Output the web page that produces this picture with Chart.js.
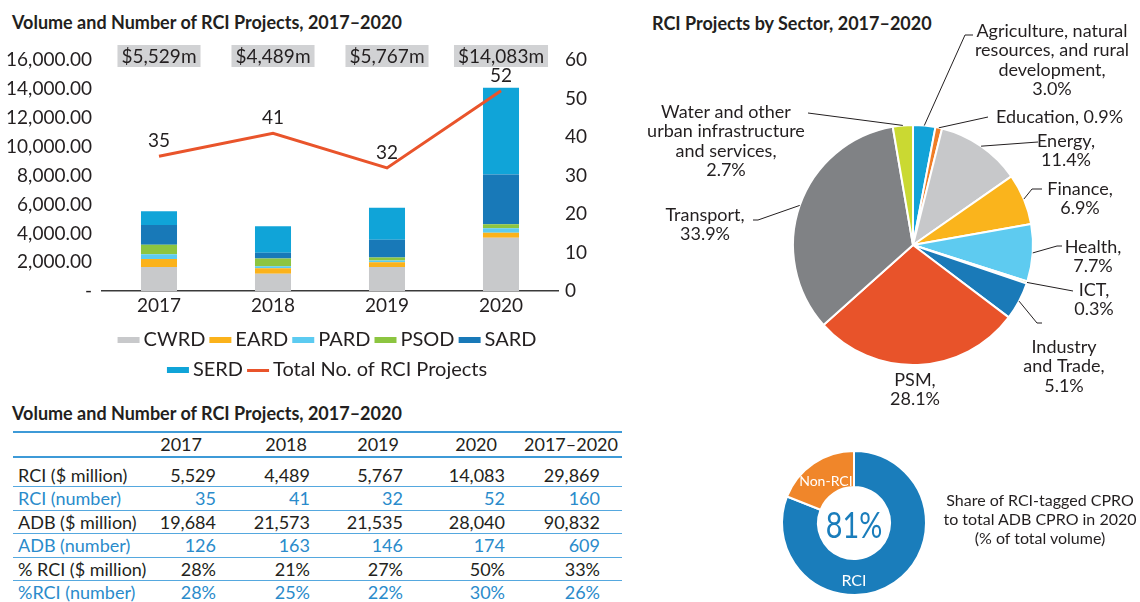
<!DOCTYPE html>
<html>
<head>
<meta charset="utf-8">
<script src="https://cdn.jsdelivr.net/npm/chart.js@4.4.1/dist/chart.umd.min.js"></script>
<style>
  body { margin: 0; width: 1140px; height: 602px; position: relative; overflow: hidden; background: #fff;
         font-family: Lato, "Noto Sans", sans-serif; color: #231f20; }
  canvas { position: absolute; }
  .title { position: absolute; font-weight: 700; font-size: 18px; line-height: 22px; white-space: nowrap; }
  #tbl { position: absolute; left: 13px; top: 431px; width: 609px; border-top: 2px solid #3d9ad7; font-size: 18px; }
  #tbl .row { display: flex; box-sizing: border-box; border-bottom: 1.5px solid #55a8df; }
  #tbl .row.head { height: 25px; line-height: 23px; border-bottom: 2px solid #3d9ad7; }
  #tbl .row.first { height: 29px; padding-top: 8px; line-height: 19px; }
  #tbl .row.body { height: 23.5px; line-height: 22px; }
  #tbl .row.last { border-bottom: none; }
  #tbl .cell { text-align: right; white-space: nowrap; }
  #tbl .lab { text-align: left; padding-left: 5px; }
  .blue { color: #2a8bcb; }
  #shareText { position: absolute; left: 935px; top: 490px; width: 210px; text-align: center;
               font-size: 16px; line-height: 19px; }
</style>
</head>
<body>
<div class="title" style="left:12px; top:11px;">Volume and Number of RCI Projects, 2017–2020</div>
<canvas id="bars" width="600" height="390" style="left:0; top:0;"></canvas>

<div class="title" style="left:652px; top:12px;">RCI Projects by Sector, 2017–2020</div>
<canvas id="pie" width="500" height="420" style="left:640px; top:0;"></canvas>

<div class="title" style="left:12px; top:402px;">Volume and Number of RCI Projects, 2017–2020</div>
<div id="tbl"></div>

<canvas id="share" width="190" height="172" style="left:760px; top:430px;"></canvas>
<div id="shareText">Share of RCI-tagged CPRO<br>to total ADB CPRO in 2020<br>(% of total volume)</div>

<script>
Chart.defaults.font.family = 'Lato, "Noto Sans", sans-serif';
Chart.defaults.color = '#231f20';

// --- bar + line data (US$ million by department, number of projects)
const years = ['2017', '2018', '2019', '2020'];
const departments = ['CWRD', 'EARD', 'PARD', 'PSOD', 'SARD', 'SERD'];
const cwrd = [1678, 1211, 1671, 3694];
const eard = [543, 380, 330, 346];
const pard = [331, 143, 118, 323];
const psod = [662, 523, 212, 277];
const sard = [1370, 404, 1224, 3440];
const serd = [945, 1828, 2212, 6003];
const projectCounts = [35, 41, 32, 52];
const lineLabel = 'Total No. of RCI Projects';

// --- pie data (% of RCI projects by sector)
const sectors = ['Agriculture, natural resources, and rural development', 'Education', 'Energy', 'Finance',
  'Health', 'ICT', 'Industry and Trade', 'PSM', 'Transport', 'Water and other urban infrastructure and services'];
const sectorShares = [3.0, 0.9, 11.4, 6.9, 7.7, 0.3, 5.1, 28.1, 33.9, 2.7];

// --- table data
const tableCols = ['2017', '2018', '2019', '2020', '2017–2020'];
const rciVolume = [5529, 4489, 5767, 14083, 29869];
const rciNumber = [35, 41, 32, 52, 160];
const adbVolume = [19684, 21573, 21535, 28040, 90832];
const adbNumber = [126, 163, 146, 174, 609];
const rciVolumePct = [28, 21, 27, 50, 33];
const rciNumberPct = [28, 25, 22, 30, 26];

// --- doughnut data
const shareNames = ['RCI', 'Non-RCI'];
const shareValues = [81, 19];

// ---------- styles
const deptColors = ['#c8c9cb', '#fbb21b', '#5ccbf1', '#8cc540', '#1879b8', '#10a4d8'];
const lineColor = '#e9542b';
const sectorColors = ['#12a3d8', '#f07d26', '#c7c8ca', '#fab41c', '#5ecbf0', '#8dc63f',
  '#1a7ab8', '#e8532a', '#808285', '#cad932'];
const shareColors = ['#1a7dbb', '#f0862a'];

function swatch(color, h) {
  const c = document.createElement('canvas');
  c.width = 24; c.height = h;
  const g = c.getContext('2d');
  g.fillStyle = color;
  g.fillRect(1, 0, 22, h);
  return c;
}
const legendSwatches = deptColors.map(c => swatch(c, 6)).concat([swatch(lineColor, 3)]);

const deptData = [cwrd, eard, pard, psod, sard, serd];

// value boxes on top and counts above the line
const barAnnotations = {
  id: 'barAnnotations',
  afterDatasetsDraw(chart) {
    const {ctx, chartArea, scales: {x}} = chart;
    ctx.save();
    ctx.font = '19px ' + Chart.defaults.font.family;
    ctx.textAlign = 'center';
    ctx.textBaseline = 'middle';
    years.forEach((yr, i) => {
      const total = deptData.reduce((s, d) => s + d[i], 0);
      const txt = '$' + total.toLocaleString('en-US') + 'm';
      const cx = x.getPixelForValue(i);
      const w = ctx.measureText(txt).width + 8;
      ctx.fillStyle = '#d1d2d4';
      ctx.fillRect(cx - w / 2, chartArea.top - 15, w, 22);
      ctx.fillStyle = '#231f20';
      ctx.fillText(txt, cx, chartArea.top - 3.5);
    });
    const meta = chart.getDatasetMeta(departments.length);
    meta.data.forEach((pt, i) => {
      ctx.fillText(String(projectCounts[i]), pt.x, pt.y - 15);
    });
    ctx.restore();
  }
};

const barDatasets = departments.map((name, i) => ({
  type: 'bar',
  label: name,
  data: deptData[i],
  backgroundColor: deptColors[i],
  borderWidth: 0,
  barPercentage: 0.316,
  categoryPercentage: 1,
  yAxisID: 'y',
  order: 1
}));

new Chart(document.getElementById('bars'), {
  data: {
    labels: years,
    datasets: barDatasets.concat([{
      type: 'line',
      label: lineLabel,
      data: projectCounts,
      borderColor: lineColor,
      backgroundColor: lineColor,
      borderWidth: 3,
      pointRadius: 0,
      tension: 0,
      yAxisID: 'y1',
      order: 0
    }])
  },
  options: {
    responsive: false,
    animation: false,
    events: [],
    layout: {padding: {top: 60, left: 0, right: 0, bottom: 0}},
    scales: {
      x: {
        stacked: true,
        grid: {display: false, drawTicks: false},
        border: {display: true, color: '#3a3a3a', width: 1.5},
        ticks: {font: {size: 19}, padding: 3, color: '#231f20'}
      },
      y: {
        stacked: true,
        position: 'left',
        min: 0, max: 16000,
        grid: {display: false, drawTicks: false},
        border: {display: false},
        afterFit: s => { s.width = 102; },
        ticks: {
          stepSize: 2000, padding: 10, font: {size: 19}, color: '#231f20',
          callback: v => v === 0 ? '-' : v.toLocaleString('en-US', {minimumFractionDigits: 2, maximumFractionDigits: 2})
        }
      },
      y1: {
        position: 'right',
        min: 0, max: 60,
        grid: {display: false, drawTicks: false},
        border: {display: false},
        afterFit: s => { s.width = 42; },
        ticks: {stepSize: 10, padding: 7, font: {size: 19}, color: '#231f20'}
      }
    },
    plugins: {
      tooltip: {enabled: false},
      legend: {
        position: 'bottom',
        fullSize: false,
        labels: {
          usePointStyle: true,
          pointStyleWidth: 10,
          padding: 10,
          font: {size: 20},
          color: '#231f20',
          sort: (a, b) => a.datasetIndex - b.datasetIndex,
          generateLabels(chart) {
            const items = Chart.defaults.plugins.legend.labels.generateLabels(chart);
            items.forEach(it => { it.pointStyle = legendSwatches[it.datasetIndex]; });
            return items;
          }
        }
      }
    }
  },
  plugins: [barAnnotations]
});

// ---------- pie with call-outs
const sectorLabelLines = [
  ['Agriculture, natural', 'resources, and rural', 'development,'],
  ['Education,'], ['Energy,'], ['Finance,'], ['Health,'], ['ICT,'],
  ['Industry', 'and Trade,'], ['PSM,'], ['Transport,'],
  ['Water and other', 'urban infrastructure', 'and services,']
];
// text anchor and leader bend points, relative to the pie centre
const sectorLabelLayout = [
  {text: [139, -214], leader: [[52, -210], [60, -210]]},
  {text: [83, -128], leader: [[75, -128]], align: 'left', inline: true},
  {text: [153, -104], leader: [[125, -103]]},
  {text: [167, -56], leader: [[119, -56], [129, -56]]},
  {text: [180, 2], leader: [[144, 1], [149, 1]]},
  {text: [181, 45], leader: [[160, 46]]},
  {text: [151, 102], leader: [[124, 78], [129, 78]]},
  {text: [2, 135]},
  {text: [-208, -30], leader: [[-155, -25], [-160, -25]]},
  {text: [-187, -133], leader: [[-105, -132]]}
];

const sectorCallouts = {
  id: 'sectorCallouts',
  afterDatasetsDraw(chart) {
    const {ctx} = chart;
    const meta = chart.getDatasetMeta(0);
    ctx.save();
    ctx.font = '18px ' + Chart.defaults.font.family;
    ctx.fillStyle = '#231f20';
    ctx.strokeStyle = '#231f20';
    ctx.lineWidth = 1;
    ctx.textBaseline = 'middle';
    meta.data.forEach((arc, i) => {
      const lay = sectorLabelLayout[i];
      const cx = arc.x, cy = arc.y;
      const mid = (arc.startAngle + arc.endAngle) / 2;
      if (lay.leader) {
        ctx.beginPath();
        ctx.moveTo(cx + Math.cos(mid) * arc.outerRadius, cy + Math.sin(mid) * arc.outerRadius);
        lay.leader.forEach(([dx, dy]) => ctx.lineTo(cx + dx, cy + dy));
        ctx.stroke();
      }
      const lines = sectorLabelLines[i].slice();
      const pct = sectorShares[i].toFixed(1) + '%';
      if (lay.inline) lines[lines.length - 1] += ' ' + pct;
      else lines.push(pct);
      ctx.textAlign = lay.align || 'center';
      lines.forEach((t, k) => ctx.fillText(t, cx + lay.text[0], cy + lay.text[1] + k * 19.5));
    });
    ctx.restore();
  }
};

new Chart(document.getElementById('pie'), {
  type: 'pie',
  data: {
    labels: sectors,
    datasets: [{
      data: sectorShares,
      backgroundColor: sectorColors,
      borderColor: '#ffffff',
      borderWidth: 2,
      hoverOffset: 0
    }]
  },
  options: {
    responsive: false,
    animation: false,
    events: [],
    layout: {padding: {left: 152, right: 106, top: 124, bottom: 54}},
    plugins: {legend: {display: false}, tooltip: {enabled: false}}
  },
  plugins: [sectorCallouts]
});

// ---------- table
const tableRows = [
  {label: 'RCI ($ million)', values: rciVolume, fmt: v => v.toLocaleString('en-US')},
  {label: 'RCI (number)', values: rciNumber, fmt: v => String(v), blue: true},
  {label: 'ADB ($ million)', values: adbVolume, fmt: v => v.toLocaleString('en-US')},
  {label: 'ADB (number)', values: adbNumber, fmt: v => String(v), blue: true},
  {label: '% RCI ($ million)', values: rciVolumePct, fmt: v => v + '%'},
  {label: '%RCI (number)', values: rciNumberPct, fmt: v => v + '%', blue: true}
];
const colWidths = [137, 66, 94, 93, 102, 117];
const valuePad = [0, 0, 0, 0, 22];
const headPad = [14, 3, 4, 8, 4];

const tbl = document.getElementById('tbl');
let html = '<div class="row head"><div class="cell lab" style="width:' + (colWidths[0] - 5) + 'px"></div>';
tableCols.forEach((c, j) => {
  html += '<div class="cell" style="box-sizing:border-box;width:' + colWidths[j + 1] + 'px;padding-right:' + headPad[j] + 'px">' + c + '</div>';
});
html += '</div>';
tableRows.forEach((r, i) => {
  const cls = 'row ' + (i === 0 ? 'first' : 'body') + (i === tableRows.length - 1 ? ' last' : '') + (r.blue ? ' blue' : '');
  html += '<div class="' + cls + '"><div class="cell lab" style="width:' + (colWidths[0] - 5) + 'px">' + r.label + '</div>';
  r.values.forEach((v, j) => {
    html += '<div class="cell" style="box-sizing:border-box;width:' + colWidths[j + 1] + 'px;padding-right:' + valuePad[j] + 'px">' + r.fmt(v) + '</div>';
  });
  html += '</div>';
});
tbl.innerHTML = html;

// ---------- doughnut
const shareLabelAngles = [Math.PI / 2, null];
const shareLabelFonts = ['16px', '14px'];
const shareLabelShift = [4, -4];

const shareLabels = {
  id: 'shareLabels',
  afterDatasetsDraw(chart) {
    const {ctx} = chart;
    const meta = chart.getDatasetMeta(0);
    const a0 = meta.data[0];
    ctx.save();
    ctx.textAlign = 'center';
    ctx.textBaseline = 'middle';
    ctx.fillStyle = shareColors[0];
    ctx.font = '36px ' + Chart.defaults.font.family;
    ctx.save();
    ctx.translate(a0.x, a0.y + 3);
    ctx.scale(0.8, 1);
    ctx.fillText(shareValues[0] + '%', 0, 0);
    ctx.restore();
    meta.data.forEach((arc, i) => {
      const a = shareLabelAngles[i] !== null ? shareLabelAngles[i] : (arc.startAngle + arc.endAngle) / 2;
      const r = (arc.innerRadius + arc.outerRadius) / 2 + shareLabelShift[i];
      ctx.fillStyle = '#ffffff';
      ctx.font = shareLabelFonts[i] + ' ' + Chart.defaults.font.family;
      ctx.fillText(shareNames[i], arc.x + Math.cos(a) * r, arc.y + Math.sin(a) * r);
    });
    ctx.restore();
  }
};

new Chart(document.getElementById('share'), {
  type: 'doughnut',
  data: {
    labels: shareNames,
    datasets: [{
      data: shareValues,
      backgroundColor: shareColors,
      borderColor: '#ffffff',
      borderWidth: 2,
      hoverOffset: 0
    }]
  },
  options: {
    responsive: false,
    animation: false,
    events: [],
    cutout: '50%',
    layout: {padding: {left: 21, right: 23, top: 20, bottom: 6}},
    plugins: {legend: {display: false}, tooltip: {enabled: false}}
  },
  plugins: [shareLabels]
});
</script>
</body>
</html>
